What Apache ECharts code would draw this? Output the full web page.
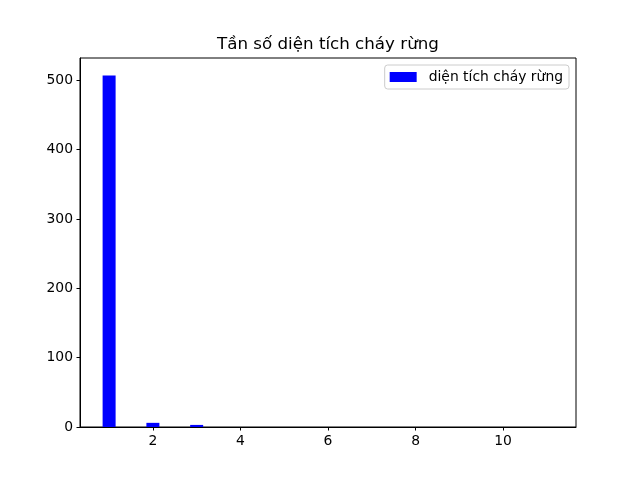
<!DOCTYPE html>
<html>
<head>
<meta charset="utf-8">
<script src="https://cdn.jsdelivr.net/npm/echarts@6/dist/echarts.min.js"></script>
<style>
  html, body { margin: 0; padding: 0; background: #ffffff; }
  #chart { width: 640px; height: 480px; }
</style>
</head>
<body>
<div id="chart"></div>
<script>
  // tần số theo nhóm diện tích (1..11)
  const categories = [1, 2, 3, 4, 5, 6, 7, 8, 9, 10, 11]
  const counts = [507, 6, 3, 0, 0, 0, 0, 0, 0, 0, 0]
  const xTicks = [2, 4, 6, 8, 10]
  const yTicks = [0, 100, 200, 300, 400, 500]

  const fontFamily = 'DejaVu Sans'
  const chart = echarts.init(document.getElementById('chart'), null, { renderer: 'canvas' })

  chart.setOption({
    animation: false,
    backgroundColor: '#ffffff',
    title: {
      text: 'Tần số diện tích cháy rừng',
      left: 212,
      top: 31,
      padding: 5,
      textStyle: {
        fontFamily: fontFamily,
        fontSize: 16.7,
        fontWeight: 'normal',
        color: '#000000'
      }
    },
    legend: {
      right: 71,
      top: 65,
      orient: 'vertical',
      backgroundColor: '#ffffff',
      borderColor: '#cccccc',
      borderWidth: 1,
      borderRadius: 3,
      padding: [5, 6, 5, 5],
      itemWidth: 27,
      itemHeight: 10,
      icon: 'rect',
      textStyle: {
        fontFamily: fontFamily,
        fontSize: 13.9,
        color: '#000000',
        padding: [0, 0, 0, 7]
      },
      data: ['diện tích cháy rừng']
    },
    grid: {
      left: 80,
      right: 64,
      top: 58,
      bottom: 53,
      show: true,
      borderColor: '#000000',
      borderWidth: 1,
      backgroundColor: 'transparent'
    },
    xAxis: {
      type: 'value',
      min: 0.335,
      max: 11.665,
      splitLine: { show: false },
      axisLine: { show: true, onZero: false, lineStyle: { color: '#000000', width: 1 } },
      axisTick: {
        show: true,
        length: 3.5,
        customValues: xTicks,
        lineStyle: { color: '#000000' }
      },
      axisLabel: {
        customValues: xTicks,
        margin: 7,
        color: '#000000',
        fontFamily: fontFamily,
        fontSize: 13.9
      }
    },
    yAxis: {
      type: 'value',
      min: 0,
      max: 532.35,
      splitLine: { show: false },
      axisLine: { show: true, lineStyle: { color: '#000000', width: 1 } },
      axisTick: {
        show: true,
        length: 3.5,
        customValues: yTicks,
        lineStyle: { color: '#000000' }
      },
      axisLabel: {
        customValues: yTicks,
        margin: 7,
        color: '#000000',
        fontFamily: fontFamily,
        fontSize: 13.9
      }
    },
    series: [
      {
        name: 'diện tích cháy rừng',
        type: 'bar',
        barWidth: 13,
        itemStyle: { color: '#0000ff' },
        data: categories.map((c, i) => [c, counts[i]])
      }
    ]
  })
</script>
</body>
</html>
